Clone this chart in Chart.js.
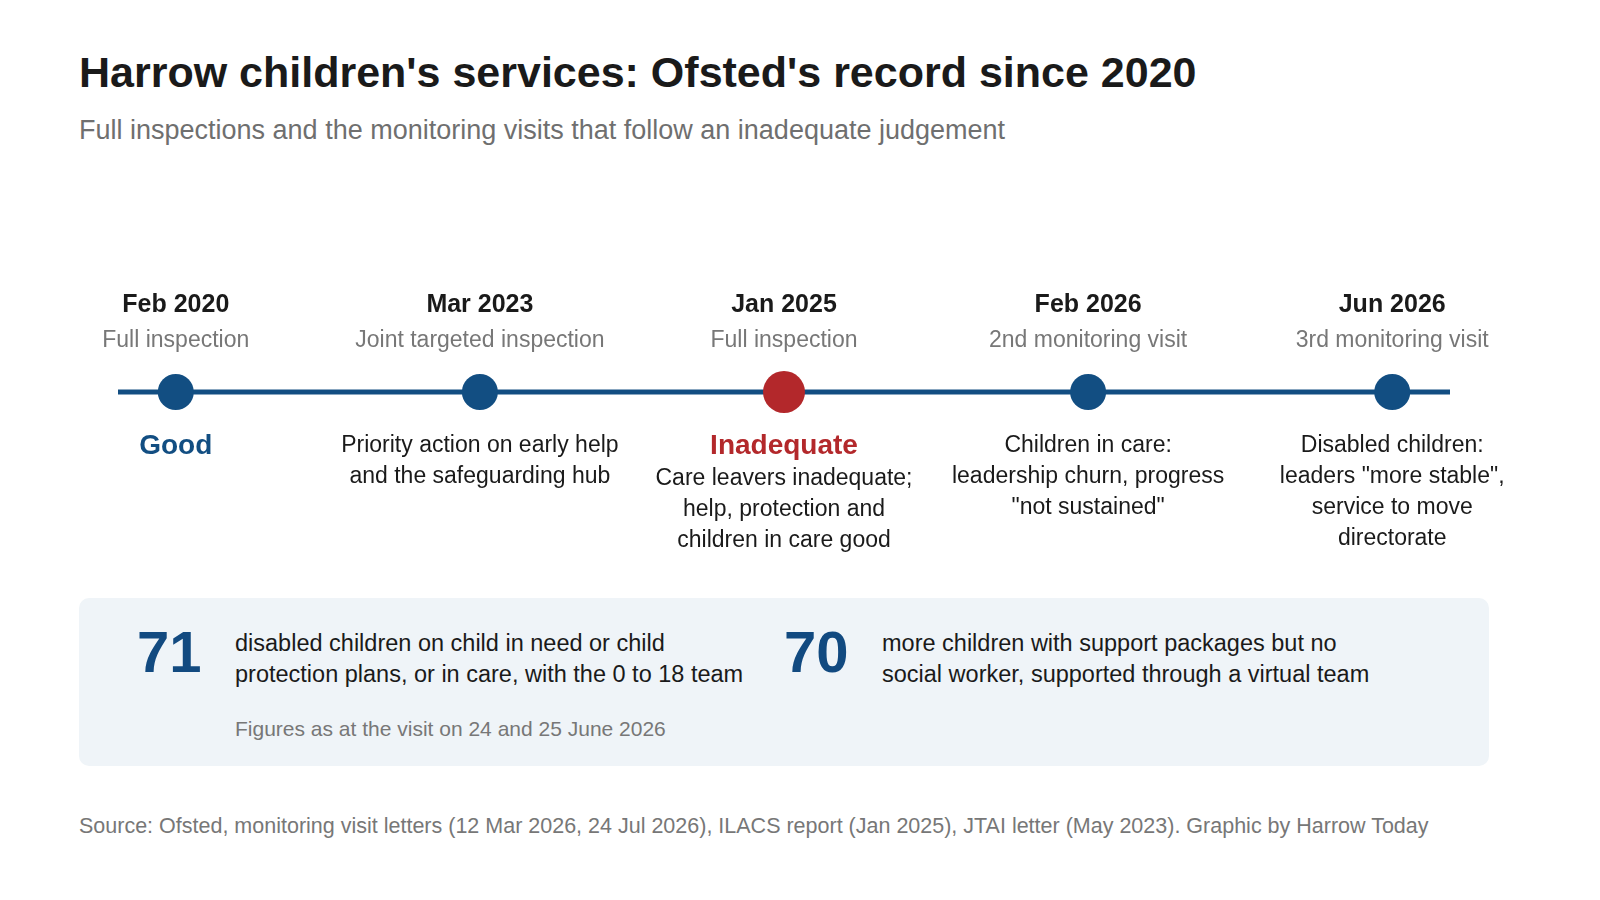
<!DOCTYPE html>
<html>
<head>
<meta charset="utf-8">
<script src="https://cdn.jsdelivr.net/npm/chart.js@4"></script>
<style>
  body { margin: 0; width: 1600px; height: 900px; background: #fff; font-family: "Liberation Sans", Arial, sans-serif; position: relative; overflow: hidden; }
  h1 { position: absolute; left: 79px; top: 48px; margin: 0; font-size: 43px; font-weight: bold; color: #1a1a1a; }
  .sub { position: absolute; left: 79px; top: 115px; font-size: 27px; color: #6f6f6f; }
  #wrap { position: absolute; left: 0; top: 222px; width: 1600px; height: 340px; }
  .box { position: absolute; left: 79px; top: 598px; width: 1410px; height: 168px; background: #eff4f8; border-radius: 10px; }
  .num { position: absolute; top: 20px; font-size: 58px; font-weight: bold; color: #124a80; }
  .txt { position: absolute; top: 30px; font-size: 23.5px; line-height: 31px; color: #1a1a1a; }
  .note { position: absolute; left: 156px; top: 119px; font-size: 21px; color: #777; }
  .src { position: absolute; left: 79px; top: 814px; font-size: 21.5px; color: #777; }
</style>
</head>
<body>
<h1>Harrow children's services: Ofsted's record since 2020</h1>
<div class="sub">Full inspections and the monitoring visits that follow an inadequate judgement</div>
<div id="wrap"><canvas id="timeline" width="1600" height="340"></canvas></div>
<div class="box">
  <div class="num" style="left:58px">71</div>
  <div class="txt" style="left:156px">disabled children on child in need or child<br>protection plans, or in care, with the 0 to 18 team</div>
  <div class="num" style="left:705px">70</div>
  <div class="txt" style="left:803px">more children with support packages but no<br>social worker, supported through a virtual team</div>
  <div class="note">Figures as at the visit on 24 and 25 June 2026</div>
</div>
<div class="src">Source: Ofsted, monitoring visit letters (12 Mar 2026, 24 Jul 2026), ILACS report (Jan 2025), JTAI letter (May 2023). Graphic by Harrow Today</div>
<script>
const dates = ['Feb 2020', 'Mar 2023', 'Jan 2025', 'Feb 2026', 'Jun 2026'];
const kinds = ['Full inspection', 'Joint targeted inspection', 'Full inspection', '2nd monitoring visit', '3rd monitoring visit'];
const verdicts = ['Good', '', 'Inadequate', '', ''];
const notes = [
  [],
  ['Priority action on early help', 'and the safeguarding hub'],
  ['Care leavers inadequate;', 'help, protection and', 'children in care good'],
  ['Children in care:', 'leadership churn, progress', '"not sustained"'],
  ['Disabled children:', 'leaders "more stable",', 'service to move', 'directorate']
];
const BLUE = '#124e82', RED = '#b3282b';
const pointColors = verdicts.map(v => v === 'Inadequate' ? RED : BLUE);

const labelPlugin = {
  id: 'timelineLabels',
  beforeDatasetsDraw(chart) {
    const { ctx, chartArea } = chart;
    const y0 = chart.scales.y.getPixelForValue(0);
    ctx.save();
    ctx.strokeStyle = BLUE;
    ctx.lineWidth = 5;
    ctx.beginPath();
    ctx.moveTo(chartArea.left, y0);
    ctx.lineTo(chartArea.right, y0);
    ctx.stroke();
    ctx.restore();
  },
  afterDatasetsDraw(chart) {
    const { ctx } = chart;
    const y0 = chart.scales.y.getPixelForValue(0);
    ctx.save();
    ctx.textAlign = 'center';
    ctx.textBaseline = 'middle';
    dates.forEach((d, i) => {
      const x = chart.scales.x.getPixelForValue(i);
      ctx.fillStyle = '#1a1a1a';
      ctx.font = 'bold 25px "Liberation Sans", Arial';
      ctx.fillText(d, x, y0 - 87);
      ctx.fillStyle = '#777';
      ctx.font = '23px "Liberation Sans", Arial';
      ctx.fillText(kinds[i], x, y0 - 51);
      let y = y0 + 54;
      if (verdicts[i]) {
        ctx.fillStyle = pointColors[i];
        ctx.font = 'bold 28px "Liberation Sans", Arial';
        ctx.fillText(verdicts[i], x, y);
        y += 33;
      }
      ctx.fillStyle = '#1a1a1a';
      ctx.font = '23px "Liberation Sans", Arial';
      notes[i].forEach(line => { ctx.fillText(line, x, y); y += 31; });
    });
    ctx.restore();
  }
};

new Chart(document.getElementById('timeline'), {
  type: 'scatter',
  data: {
    datasets: [{
      data: dates.map((d, i) => ({ x: i, y: 0 })),
      pointRadius: verdicts.map(v => v === 'Inadequate' ? 21 : 18),
      pointBackgroundColor: pointColors,
      pointBorderWidth: 0
    }]
  },
  options: {
    responsive: false,
    animation: false,
    events: [],
    layout: { padding: { left: 118, right: 150, top: 0, bottom: 0 } },
    plugins: { legend: { display: false }, tooltip: { enabled: false } },
    scales: {
      x: { type: 'linear', min: -0.19, max: 4.19, display: false },
      y: { min: -1, max: 1, display: false }
    }
  },
  plugins: [labelPlugin]
});
</script>
</body>
</html>
